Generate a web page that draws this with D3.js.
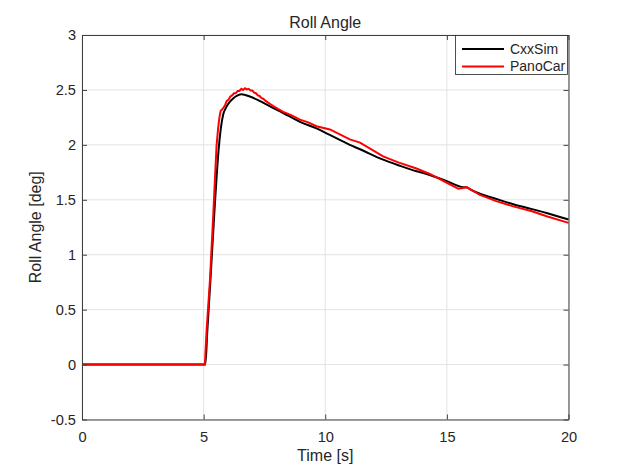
<!DOCTYPE html>
<html>
<head>
<meta charset="utf-8">
<script src="https://cdn.jsdelivr.net/npm/d3@7"></script>
<style>
  body { margin: 0; background: #fff; }
  text { font-family: "Liberation Sans", Arial, sans-serif; fill: #262626; }
</style>
</head>
<body>
<svg id="chart" width="629" height="472"></svg>
<script>
// values
var xTicks = [0, 5, 10, 15, 20];
var yTicks = [-0.5, 0, 0.5, 1, 1.5, 2, 2.5, 3];
var seriesNames = ["CxxSim", "PanoCar"];
var seriesColors = ["#000000", "#ff0000"];

var cxxTime = [0, 5.0, 5.07, 5.15, 5.28, 5.44, 5.63, 5.72, 5.81, 5.9, 6.0, 6.2, 6.4, 6.56, 6.9, 7.3, 7.73, 8.27, 8.96, 9.64, 10.19, 11.01, 11.43, 12.38, 13.0, 13.75, 14.0, 14.5, 15.0, 15.47, 15.65, 15.8, 16.0, 16.36, 17.0, 17.73, 18.5, 19.1, 20];
var cxxRoll = [0, 0, 0.0, 0.3, 0.77, 1.38, 1.99, 2.17, 2.28, 2.33, 2.37, 2.42, 2.45, 2.46, 2.44, 2.40, 2.35, 2.29, 2.21, 2.15, 2.09, 2.00, 1.96, 1.865, 1.815, 1.76, 1.745, 1.71, 1.67, 1.625, 1.615, 1.615, 1.59, 1.555, 1.51, 1.46, 1.415, 1.38, 1.32];

var panoTime = [0, 5.0, 5.05, 5.12, 5.26, 5.40, 5.53, 5.60, 5.65, 5.70, 5.75, 5.82, 5.88, 5.95, 6.02, 6.1, 6.17, 6.25, 6.32, 6.4, 6.47, 6.55, 6.62, 6.7, 6.78, 6.85, 6.93, 7.0, 7.08, 7.15, 7.23, 7.3, 7.38, 7.45, 7.55, 7.65, 7.75, 7.85, 8.0, 8.27, 8.6, 8.96, 9.3, 9.64, 10.19, 11.01, 11.43, 12.38, 13.0, 13.75, 14.3, 15.0, 15.47, 15.6, 15.8, 16.0, 16.36, 17.0, 17.73, 18.5, 19.1, 20];
var panoRoll = [0, 0, 0.0, 0.3, 0.77, 1.38, 1.99, 2.16, 2.25, 2.31, 2.32, 2.34, 2.36, 2.40, 2.41, 2.44, 2.45, 2.47, 2.47, 2.49, 2.49, 2.51, 2.50, 2.515, 2.505, 2.51, 2.495, 2.495, 2.475, 2.47, 2.45, 2.445, 2.425, 2.42, 2.40, 2.385, 2.37, 2.355, 2.335, 2.30, 2.27, 2.23, 2.205, 2.17, 2.14, 2.05, 2.02, 1.895, 1.84, 1.785, 1.735, 1.655, 1.60, 1.605, 1.615, 1.59, 1.545, 1.49, 1.44, 1.395, 1.35, 1.29];

var width = 629, height = 472;
var margin = {top: 35, right: 60.5, bottom: 52.5, left: 82};
var innerW = width - margin.left - margin.right;
var innerH = height - margin.top - margin.bottom;

var svg = d3.select("svg#chart");
var g = svg.append("g").attr("transform", `translate(${margin.left},${margin.top})`);

var x = d3.scaleLinear().domain([0, 20]).range([0, innerW]);
var y = d3.scaleLinear().domain([-0.5, 3]).range([innerH, 0]);

// grid
g.append("g").selectAll("line").data(xTicks).enter().append("line")
    .attr("x1", d => x(d)).attr("x2", d => x(d))
    .attr("y1", 0).attr("y2", innerH)
    .style("stroke", "#e3e3e3").style("stroke-width", 1);
g.append("g").selectAll("line").data(yTicks).enter().append("line")
    .attr("x1", 0).attr("x2", innerW)
    .attr("y1", d => y(d)).attr("y2", d => y(d))
    .style("stroke", "#e3e3e3").style("stroke-width", 1);

// lines
var line = d3.line().x(d => x(d[0])).y(d => y(d[1]));
var cxxData = cxxTime.map((t, i) => [t, cxxRoll[i]]);
var panoData = panoTime.map((t, i) => [t, panoRoll[i]]);

g.append("path").datum(cxxData)
    .attr("d", line.curve(d3.curveMonotoneX))
    .style("fill", "none").style("stroke", seriesColors[0]).style("stroke-width", 2);
g.append("path").datum(panoData)
    .attr("d", line.curve(d3.curveLinear))
    .style("fill", "none").style("stroke", seriesColors[1]).style("stroke-width", 2);

// axes (ticks inside, like matlab)
var xAxis = d3.axisBottom(x).tickValues(xTicks).tickSizeInner(-5).tickSizeOuter(0).tickFormat(d3.format("d"));
var yAxis = d3.axisLeft(y).tickValues(yTicks).tickSizeInner(-5).tickSizeOuter(0).tickFormat(d => d);

var gx = g.append("g").attr("transform", `translate(0,${innerH})`).call(xAxis);
var gy = g.append("g").call(yAxis);
var gx2 = g.append("g").call(d3.axisTop(x).tickValues(xTicks).tickSizeInner(-5).tickSizeOuter(0).tickFormat(""));
var gy2 = g.append("g").attr("transform", `translate(${innerW},0)`).call(d3.axisRight(y).tickValues(yTicks).tickSizeInner(-5).tickSizeOuter(0).tickFormat(""));

[gx, gy, gx2, gy2].forEach(function(a){
    a.select(".domain").style("stroke", "#404040").style("stroke-width", 1);
    a.selectAll(".tick line").style("stroke", "#404040").style("stroke-width", 1);
    a.selectAll(".tick text").style("font-size", "14.6px").style("fill", "#262626")
        .style("font-family", "'Liberation Sans', Arial, sans-serif");
});
gx.selectAll(".tick text").attr("dy", null).attr("y", 22);
gy.selectAll(".tick text").attr("x", -6);

// titles
svg.append("text").attr("x", margin.left + innerW / 2).attr("y", 28)
    .attr("text-anchor", "middle").style("font-size", "16px").text("Roll Angle");
svg.append("text").attr("x", margin.left + innerW / 2).attr("y", 461)
    .attr("text-anchor", "middle").style("font-size", "16px").text("Time [s]");
svg.append("text").attr("transform", `translate(41,${margin.top + innerH / 2}) rotate(-90)`)
    .attr("text-anchor", "middle").style("font-size", "16px").text("Roll Angle [deg]");

// legend
var legend = svg.append("g");
legend.append("rect").attr("x", 455.5).attr("y", 35.5).attr("width", 112).attr("height", 39)
    .style("fill", "#fff").style("stroke", "#262626").style("stroke-width", 0.8);
var rows = legend.selectAll("g.row").data(seriesNames).enter().append("g")
    .attr("class", "row")
    .attr("transform", (d, i) => `translate(0,${49 + i * 17.5})`);
rows.append("line").attr("x1", 462).attr("x2", 504).attr("y1", 0).attr("y2", 0)
    .style("stroke", (d, i) => seriesColors[i]).style("stroke-width", 2);
rows.append("text").attr("x", 510).attr("y", 0).attr("dy", "0.35em")
    .style("font-size", "14px").text(d => d);
</script>
</body>
</html>
